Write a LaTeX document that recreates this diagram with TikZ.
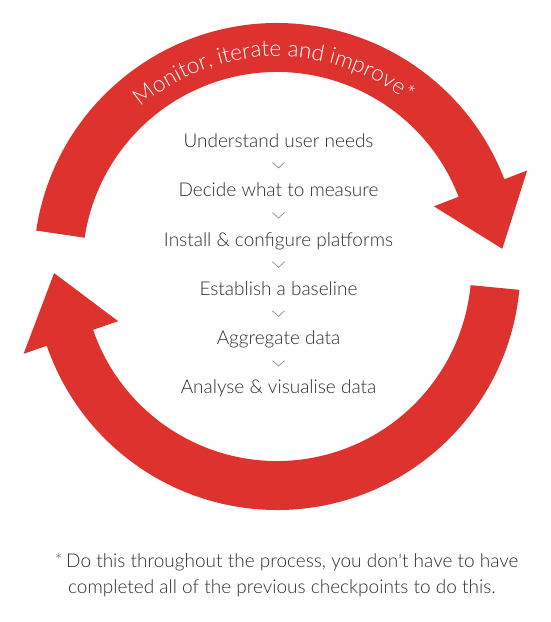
\documentclass[tikz,border=0pt]{standalone}
\usepackage{fontspec}
\setmainfont{Lato}[UprightFont=* Light]
\usetikzlibrary{calc,decorations.text}
\definecolor{arrowred}{RGB}{221,50,45}
\definecolor{steptext}{RGB}{45,45,45}
\definecolor{chevgray}{RGB}{150,150,150}
\definecolor{astgray}{RGB}{110,110,110}
\begin{document}
\begin{tikzpicture}[x=1pt,y=1pt,
  stepnode/.style={font=\fontsize{19}{21}\selectfont, text=steptext, inner sep=0pt, anchor=base},
  notenode/.style={font=\fontsize{19}{21}\selectfont, text=steptext, inner sep=0pt, anchor=base west},
  chevron/.style={draw=chevgray, line width=0.8pt},
  ring/.style={fill=arrowred}]
\useasboundingbox (0,0) rectangle (550,-622);
\coordinate (C) at (277,-266.5);
% top arrow
\fill[ring] ($(C)+(171.5:243.5pt)$) arc[start angle=171.5, end angle=21, radius=243.5pt]
  -- ($(C)+(21:268pt)$) -- ($(C)+(4.5:226pt)$) -- ($(C)+(21:168pt)$)
  -- ($(C)+(21:194.5pt)$) arc[start angle=21, end angle=171.5, radius=194.5pt] -- cycle;
% bottom arrow
\fill[ring] ($(C)+(-5.5:243.5pt)$) arc[start angle=-5.5, end angle=-161, radius=243.5pt]
  -- ($(C)+(-161:268pt)$) -- ($(C)+(-178.3:223pt)$) -- ($(C)+(-161:168pt)$)
  -- ($(C)+(-161:194.5pt)$) arc[start angle=-161, end angle=-5.5, radius=194.5pt] -- cycle;
% title along the arc
\path[decorate, decoration={text along path, text align=center, text color=white,
  text={|\fontsize{22.5}{24}\selectfont|Monitor, iterate and improve*}}]
  ($(C)+(161:210pt)$) arc[start angle=161, end angle=21, radius=210pt];
% steps
\node[stepnode] (s1) at (278.5,-147.5) {Understand user needs};
\node[stepnode] (s2) at (278.5,-196.5) {Decide what to measure};
\node[stepnode] (s3) at (278.5,-246) {Install \& configure platforms};
\node[stepnode] (s4) at (278.5,-295) {Establish a baseline};
\node[stepnode] (s5) at (278.5,-344) {Aggregate data};
\node[stepnode] (s6) at (278.5,-393) {Analyse \& visualise data};
\foreach \a/\b in {s1/s2,s2/s3,s3/s4,s4/s5,s5/s6}{
  \draw[chevron] ($(\a)!0.5!(\b)+(-6,2.75)$) -- ++(6,-5.5) -- ++(6,5.5);
}
% footnote
\node[notenode] (f1) at (66,-567) {Do this throughout the process, you don\textquotesingle t have to have};
\node[notenode] (f2) at (68,-593) {completed all of the previous checkpoints to do this.};
\node[anchor=base east, inner sep=0pt, text=astgray, font=\fontsize{19}{21}\selectfont] (ast) at ($(f1.base west)+(-3,0)$) {*};
\end{tikzpicture}
\end{document}
